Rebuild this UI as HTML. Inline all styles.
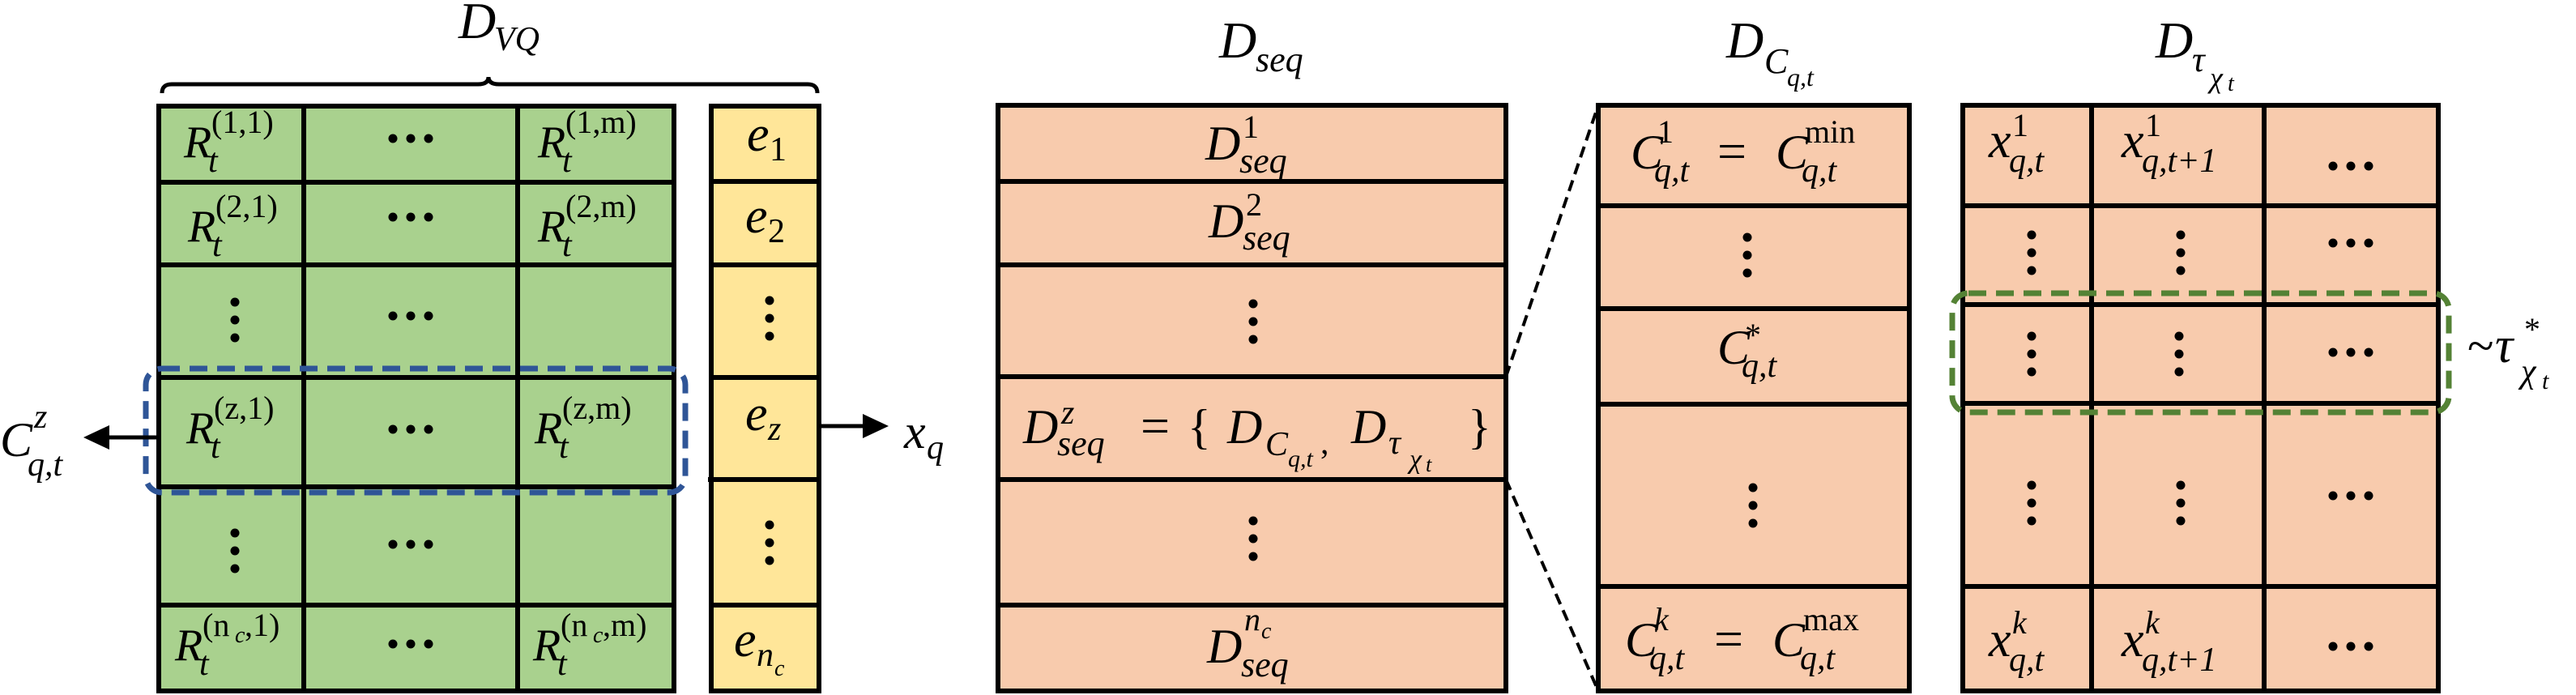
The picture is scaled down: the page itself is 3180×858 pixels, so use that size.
<!DOCTYPE html>
<html><head><meta charset="utf-8"><style>
html,body{margin:0;padding:0;background:#fff;}
svg{display:block;}
text{font-family:"Liberation Serif",serif;font-style:italic;fill:#000;}
.up{font-style:normal;}
</style></head><body>
<svg id="fig" width="3180" height="858" viewBox="0 0 3180 858" xmlns="http://www.w3.org/2000/svg">
<path d="M200,115 Q200,104 212,104 L590,104 Q603,104 603,95 Q603,104 616,104 L997,104 Q1009,104 1009,115" fill="none" stroke="#000" stroke-width="5"/>
<g stroke="#000" stroke-width="6">
<rect x="196" y="131" width="636" height="722" fill="#a9d18e"/>
<line x1="375" y1="131" x2="375" y2="853"/><line x1="639" y1="131" x2="639" y2="853"/>
<line x1="196" y1="225" x2="832" y2="225"/><line x1="196" y1="327" x2="832" y2="327"/>
<line x1="196" y1="466" x2="832" y2="466"/><line x1="196" y1="601" x2="832" y2="601"/>
<line x1="196" y1="747" x2="832" y2="747"/>
</g>
<g stroke="#000" stroke-width="6">
<rect x="878" y="131" width="133" height="722" fill="#ffe699"/>
<line x1="878" y1="224" x2="1011" y2="224"/><line x1="878" y1="327" x2="1011" y2="327"/>
<line x1="878" y1="466" x2="1011" y2="466"/><line x1="874" y1="592" x2="1011" y2="592"/>
<line x1="878" y1="747" x2="1011" y2="747"/>
</g>
<rect x="180" y="455" width="666" height="153" rx="20" fill="none" stroke="#2f5597" stroke-width="7" stroke-dasharray="22,12"/>
<line x1="195" y1="540" x2="130" y2="540" stroke="#000" stroke-width="5"/>
<polygon points="103,540 135,525 135,555" fill="#000"/>
<line x1="1014" y1="526" x2="1070" y2="526" stroke="#000" stroke-width="5"/>
<polygon points="1097,526 1065,511 1065,541" fill="#000"/>
<g stroke="#000" stroke-width="6">
<rect x="1232" y="130" width="627" height="723" fill="#f8cbad"/>
<line x1="1232" y1="224" x2="1859" y2="224"/><line x1="1232" y1="327" x2="1859" y2="327"/>
<line x1="1232" y1="465" x2="1859" y2="465"/><line x1="1232" y1="592" x2="1859" y2="592"/>
<line x1="1232" y1="747" x2="1859" y2="747"/>
</g>
<line x1="1859" y1="465" x2="1973" y2="130" stroke="#000" stroke-width="4" stroke-dasharray="14,8"/>
<line x1="1859" y1="592" x2="1973" y2="853" stroke="#000" stroke-width="4" stroke-dasharray="14,8"/>
<g stroke="#000" stroke-width="6">
<rect x="1973" y="130" width="384" height="723" fill="#f8cbad"/>
<line x1="1973" y1="254" x2="2357" y2="254"/><line x1="1973" y1="381" x2="2357" y2="381"/>
<line x1="1973" y1="499" x2="2357" y2="499"/><line x1="1973" y1="724" x2="2357" y2="724"/>
</g>
<g stroke="#000" stroke-width="6">
<rect x="2423" y="130" width="587" height="723" fill="#f8cbad"/>
<line x1="2582" y1="130" x2="2582" y2="853"/><line x1="2795" y1="130" x2="2795" y2="853"/>
<line x1="2423" y1="254" x2="3010" y2="254"/><line x1="2423" y1="376" x2="3010" y2="376"/>
<line x1="2423" y1="498" x2="3010" y2="498"/><line x1="2423" y1="724" x2="3010" y2="724"/>
</g>
<rect x="2410" y="362" width="613" height="147" rx="20" fill="none" stroke="#548235" stroke-width="7" stroke-dasharray="22,12"/>
<g id="txt"></g>
</svg>
<script>
var NS='http://www.w3.org/2000/svg';
var layer=document.getElementById('txt');
function t(x,y,s,fs,name,up){
  var el=document.createElementNS(NS,'text');
  el.setAttribute('x',x);el.setAttribute('y',y);
  el.setAttribute('font-size',fs);
  if(up)el.setAttribute('class','up');
  el.textContent=s;
  
  
  layer.appendChild(el);
}
function dot(cx,cy,name){
  var c=document.createElementNS(NS,'circle');
  c.setAttribute('cx',cx);c.setAttribute('cy',cy);c.setAttribute('r',5.5);
  
  
  layer.appendChild(c);
}
function hd(cx,cy){dot(cx-22,cy,'hdots');dot(cx,cy,'hdots');dot(cx+22,cy,'hdots');}
function vd(cx,cy){dot(cx,cy-22,'vdots');dot(cx,cy,'vdots');dot(cx,cy+22,'vdots');}
// titles
t(566,47,'D',64,'title-dvq');t(610,62,'VQ',42,'title-dvq-sub');
t(1505,71,'D',64,'title-dseq');t(1550,88,'seq',44,'title-dseq-sub');
t(2131,71,'D',64,'title-dc');t(2178,90,'C',44,'title-dc-sub');t(2206,106,'q,t',32,'title-dc-subsub');
t(2661,71,'D',64,'title-dtau');t(2706,88,'τ',44,'title-dtau-sub');t(2728,108,'χ',36,'title-dtau-subsub');t(2750,112,'t',28,'title-dtau-subsub2');
// green cells
var rr=[[227,194,'(1,1)'],[232,298,'(2,1)'],[230,547,'(z,1)'],[216,815,'(n',1]];
var rm=[[664,194,'(1,m)'],[664,298,'(2,m)'],[660,547,'(z,m)'],[658,815,'(n',1]];
[rr,rm].forEach(function(col,ci){col.forEach(function(r){
  t(r[0],r[1],'R',56,'r-cell');
  t(r[0]+30,r[1]+18,'t',42,'r-sub');
  if(r[3]){t(r[0]+34,r[1]-30,'(n',40,'r-sup',true);t(r[0]+74,r[1]-22,'c',28,'r-sup-sub');t(r[0]+86,r[1]-30,ci?',m)':',1)',40,'r-sup',true);}
  else t(r[0]+34,r[1]-30,r[2],40,'r-sup',true);
});});
hd(507,171);hd(507,268);hd(507,390);hd(507,530);hd(507,672);hd(507,795);
vd(290,395);vd(290,680);
// yellow
t(922,186,'e',62,'e1');t(950,198,'1',42,'e1-sub',true);
t(920,287,'e',62,'e2');t(948,299,'2',42,'e2-sub',true);
t(920,531,'e',62,'ez');t(948,543,'z',42,'ez-sub');
t(906,810,'e',62,'enc');t(934,822,'n',42,'enc-sub');t(956,834,'c',28,'enc-subsub');
vd(950,393);vd(950,670);
// outside labels
t(0,563,'C',60,'c-z-label');t(42,528,'z',42,'c-z-sup');t(34,587,'q,t',42,'c-z-sub');
t(1116,553,'x',60,'xq-label');t(1144,566,'q',42,'xq-sub');
// seq table
t(1488,197,'D',60,'dseq1');t(1534,170,'1',40,'dseq1-sup',true);t(1530,213,'seq',44,'dseq1-sub');
t(1492,293,'D',60,'dseq2');t(1538,266,'2',40,'dseq2-sup',true);t(1534,308,'seq',44,'dseq2-sub');
vd(1547,397);vd(1547,665);
t(1263,547,'D',60,'dseqz');t(1310,523,'z',42,'dseqz-sup');t(1305,562,'seq',44,'dseqz-sub');
t(1408,547,'=',64,'dseqz-eq',true);t(1466,547,'{',60,'dseqz-lbrace',true);
t(1515,547,'D',60,'dseqz-d1');t(1562,562,'C',42,'dseqz-c');t(1590,576,'q,t',30,'dseqz-qt');t(1630,560,',',42,'dseqz-comma',true);
t(1668,547,'D',60,'dseqz-d2');t(1714,560,'τ',42,'dseqz-tau');t(1740,578,'χ',34,'dseqz-chi');t(1760,582,'t',26,'dseqz-t');
t(1812,547,'}',60,'dseqz-rbrace',true);
t(1490,818,'D',60,'dseqnc');t(1536,778,'n',40,'dseqnc-sup');t(1557,788,'c',28,'dseqnc-supsub');t(1532,835,'seq',44,'dseqnc-sub');
// c table
t(2013,208,'C',60,'c1');t(2046,176,'1',40,'c1-sup',true);t(2042,224,'q,t',42,'c1-sub');
t(2120,208,'=',64,'c1-eq',true);t(2192,208,'C',60,'cmin');t(2228,176,'min',40,'cmin-sup',true);t(2224,224,'q,t',42,'cmin-sub');
vd(2157,315);
t(2120,449,'C',60,'cstar');t(2154,427,'*',40,'cstar-sup',true);t(2150,465,'q,t',42,'cstar-sub');
vd(2164,624);
t(2006,810,'C',60,'ck');t(2042,778,'k',40,'ck-sup');t(2036,826,'q,t',42,'ck-sub');
t(2116,810,'=',64,'ck-eq',true);t(2188,810,'C',60,'cmax');t(2226,778,'max',40,'cmax-sup',true);t(2222,826,'q,t',42,'cmax-sub');
// tau table
t(2455,194,'x',62,'x1');t(2484,168,'1',40,'x1-sup',true);t(2480,212,'q,t',42,'x1-sub');
t(2619,194,'x',62,'x1n');t(2648,168,'1',40,'x1n-sup',true);t(2644,212,'q,t+1',42,'x1n-sub');
t(2455,810,'x',62,'xk');t(2484,782,'k',40,'xk-sup');t(2480,828,'q,t',42,'xk-sub');
t(2619,810,'x',62,'xkn');t(2648,782,'k',40,'xkn-sup');t(2644,828,'q,t+1',42,'xkn-sub');
hd(2902,205);hd(2902,300);hd(2902,435);hd(2902,612);hd(2902,798);
vd(2508,312);vd(2692,312);vd(2508,437);vd(2690,437);vd(2508,621);vd(2692,621);
// tau star
t(3046,447,'~',60,'tilde',true);t(3080,447,'τ',62,'tau-star');t(3116,420,'*',40,'tau-star-sup',true);t(3112,472,'χ',42,'tau-star-sub');t(3138,480,'t',30,'tau-star-subsub');
</script>
</body></html>
